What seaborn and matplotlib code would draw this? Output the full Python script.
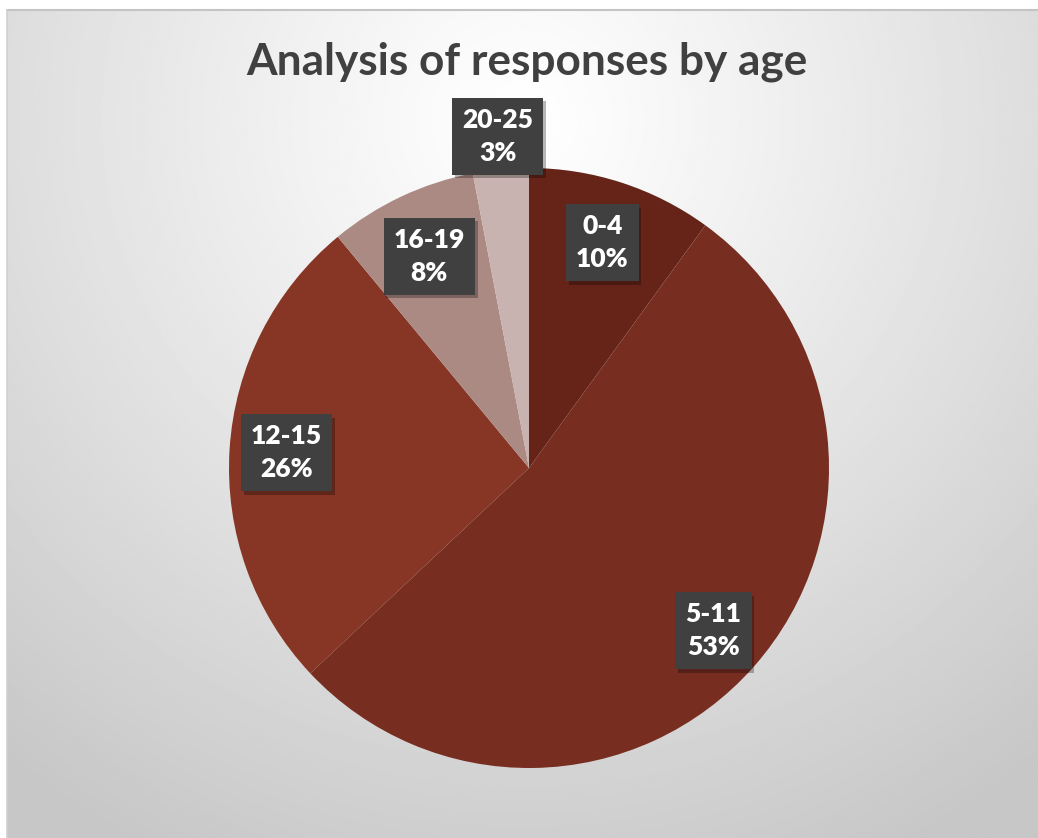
import numpy as np
import matplotlib
matplotlib.use("Agg")
import matplotlib.pyplot as plt
import matplotlib.patheffects as pe
import seaborn as sns

# ---- data ----
categories = ["0-4", "5-11", "12-15", "16-19", "20-25"]
percentages = [10, 53, 26, 8, 3]
colors = ["#662419", "#772d20", "#873625", "#ac8a84", "#c9b3b0"]
label_dist = [0.79, 0.82, 0.81, 0.78, 1.11]
title = "Analysis of responses by age"

sns.set_style("white")
plt.rcParams["font.family"] = ["Lato", "DejaVu Sans"]

W, H = 1038, 838
fig = plt.figure(figsize=(W / 100, H / 100), dpi=100)
fig.patch.set_facecolor("white")

# background with radial gradient
x0, y0 = 7 / W, 0.0
bw, bh = 1 - x0, 1 - 10 / H
bg = fig.add_axes([x0, y0, bw, bh])
bg.set_axis_off()
nx, ny = 520, 420
xx, yy = np.meshgrid(np.linspace(0, 1031, nx), np.linspace(0, 828, ny))
cx, cy = 515, 110
d = np.sqrt((xx - cx) ** 2 + (yy - cy) ** 2)
t = np.clip(d / 820, 0, 1) ** 1.1
v = 1.0 - t * (1.0 - 0.78)
bg.imshow(v, cmap="gray", vmin=0, vmax=1, extent=[0, 1, 0, 1], aspect="auto", origin="upper")
bg.set_xlim(0, 1); bg.set_ylim(0, 1)
fig.add_artist(plt.Line2D([x0, 1], [1 - 10 / H, 1 - 10 / H], transform=fig.transFigure, color="#c4c4c4", lw=1.5))
fig.add_artist(plt.Line2D([x0, x0], [0, 1 - 10 / H], transform=fig.transFigure, color="#d0d0d0", lw=1.2))

# pie axes: center (529,468), radius 300 px
R = 300
cxp, cyp = 529, 468
ax = fig.add_axes([(cxp - R) / W, (H - cyp - R) / H, 2 * R / W, 2 * R / H])
ax.set_axis_off()
wedges, _ = ax.pie(percentages, colors=colors, startangle=90, counterclock=False,
                   radius=1.0, wedgeprops=dict(edgecolor="none", linewidth=0))
ax.set_xlim(-1, 1); ax.set_ylim(-1, 1)
ax.set_aspect("equal")

for w, cat, p, ld in zip(wedges, categories, percentages, label_dist):
    ang = np.deg2rad((w.theta1 + w.theta2) / 2)
    x, y = ld * np.cos(ang), ld * np.sin(ang)
    txt = ax.text(x, y, f"{cat}\n{p}%", ha="center", va="center", color="white",
                  fontsize=19, fontweight="heavy", linespacing=1.45,
                  bbox=dict(boxstyle="square,pad=0.38", facecolor="#404040",
                            edgecolor="none", linewidth=0),
                  zorder=5)
    patch = txt.get_bbox_patch()
    patch.set_path_effects([pe.SimplePatchShadow(offset=(2, -2.5), shadow_rgbFace="black", alpha=0.28),
                            pe.Normal()])

fig.text(527 / W, 1 - 62 / H, title, ha="center", va="center", fontsize=31.8,
         fontweight="bold", color="#404040")

fig.savefig("out.png", dpi=100)
